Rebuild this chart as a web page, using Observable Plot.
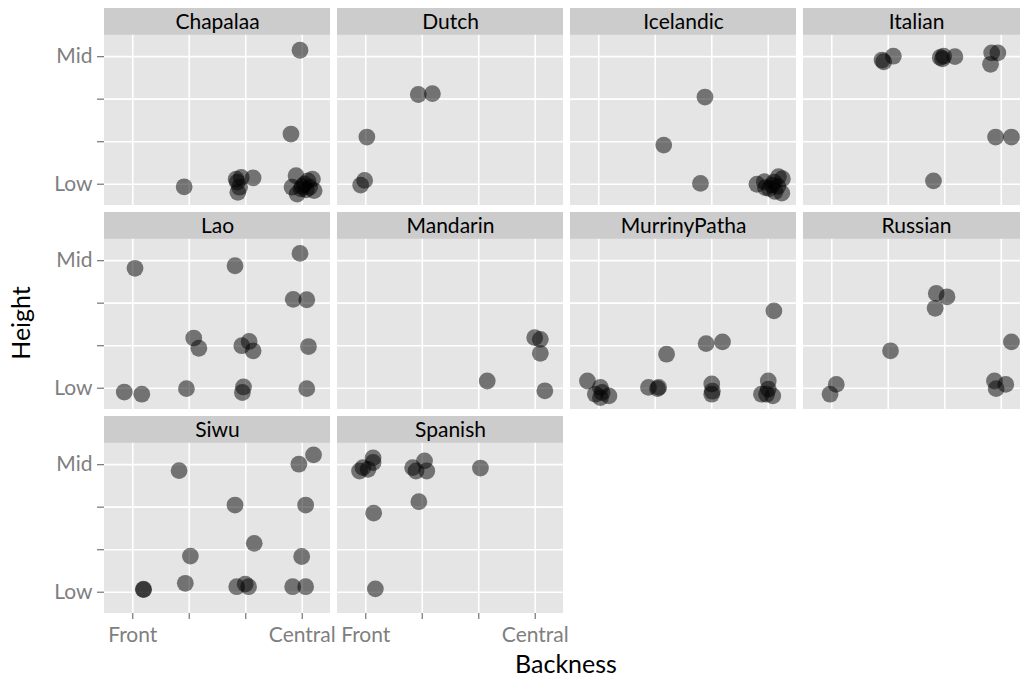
<!DOCTYPE html>
<html>
<head>
<meta charset="utf-8">
<script src="https://cdn.jsdelivr.net/npm/d3@7"></script>
<script src="https://cdn.jsdelivr.net/npm/@observablehq/plot@0.6"></script>
<style>
html, body { margin: 0; padding: 0; background: #fff; overflow: hidden; }
#wrap { position: relative; width: 1020px; height: 677px; overflow: hidden; font-family: Lato, "Open Sans", sans-serif; }
#chart svg { max-width: none !important; }
.title { position: absolute; color: #000; font-size: 25px; line-height: 25px; white-space: nowrap; }
#xt { left: 566px; top: 663px; transform: translate(-50%, -50%); }
#yt { left: 20px; top: 323px; transform: translate(-50%, -50%) rotate(-90deg); }
</style>
</head>
<body>
<div id="wrap">
  <div id="chart"></div>
  <div class="title" id="xt">Backness</div>
  <div class="title" id="yt">Height</div>
</div>
<script>
// Facet names, in facet_wrap order (4 columns)
const languages = ["Chapalaa", "Dutch", "Icelandic", "Italian", "Lao", "Mandarin", "MurrinyPatha", "Russian", "Siwu", "Spanish"];

// Tick positions and labels
const backnessTicks = [1, 2, 3, 4];
const backnessLabels = ["Front", "", "", "Central"];
const heightTicks = [1, 2, 3, 4];
const heightLabels = ["Low", "", "", "Mid"];

// Points per language: [backness, height] (jittered values)
const Chapalaa = [[3.96,4.15],[3.80,2.18],[1.91,0.94],
  [2.83,1.12],[2.92,1.16],[3.13,1.15],[2.86,0.81],[2.89,0.93],[2.85,1.05],
  [3.89,1.20],[4.18,1.12],[3.82,0.93],[3.91,0.77],[4.21,0.85],[4.04,1.00],[4.10,1.08],[3.98,0.89],[4.13,0.93],
  [4.00,0.95],[4.07,0.87]];
const Dutch = [[1.93,3.11],[2.18,3.13],[1.02,2.11],[0.98,1.09],[0.91,0.98]];
const Icelandic = [[2.88,3.05],[2.15,1.92],[2.80,1.02],
  [3.80,1.00],[3.93,1.06],[4.18,1.18],[4.25,1.13],[4.12,0.83],[4.24,0.79],[4.02,0.90],[4.07,0.98],[3.95,0.92],[4.10,1.05],[4.17,0.95]];
const Italian = [[1.92,3.88],[1.89,3.92],[2.09,4.01],[2.92,3.98],[2.96,3.95],[2.98,4.01],[3.18,4.00],
  [3.83,4.09],[3.94,4.09],[3.81,3.82],[3.90,2.11],[4.18,2.11],[2.80,1.08]];
const Lao = [[1.04,3.82],[3.96,4.17],[2.81,3.88],[3.84,3.09],[4.08,3.08],[2.08,2.18],[2.17,1.94],
  [2.93,2.00],[3.06,2.10],[3.13,1.88],[4.11,1.98],[0.85,0.91],[1.16,0.86],[1.95,0.99],[2.96,1.03],[2.94,0.90],[4.08,0.99]];
const Mandarin = [[3.99,2.19],[4.09,2.15],[4.09,1.82],[3.15,1.17],[4.17,0.94]];
const MurrinyPatha = [[4.10,2.82],[2.90,2.05],[3.19,2.09],[2.20,1.80],[0.80,1.17],
  [1.03,1.02],[0.94,0.86],[1.18,0.82],[1.03,0.78],[1.06,0.90],
  [1.88,1.02],[2.06,1.02],[2.04,0.99],
  [3.00,1.10],[3.00,0.86],[3.01,0.93],
  [4.00,1.17],[3.88,0.86],[4.08,0.82],[3.97,0.86],[4.00,0.98]];
const Russian = [[2.85,3.23],[3.04,3.15],[2.83,2.88],[2.04,1.88],[4.18,2.09],[1.08,1.09],[0.97,0.86],[3.88,1.17],[4.08,1.09],[3.91,0.99]];
const Siwu = [[4.20,4.23],[3.94,4.01],[1.82,3.86],[2.81,3.05],[4.06,3.05],[3.15,2.15],[2.02,1.85],[3.99,1.84],
  [1.19,1.07],[1.19,1.06],[1.93,1.21],[2.84,1.13],[2.99,1.19],[3.05,1.13],[3.83,1.13],[4.06,1.13]];
const Spanish = [[1.13,4.16],[1.13,4.05],[0.95,3.93],[0.89,3.85],[1.04,3.89],
  [2.04,4.09],[1.83,3.93],[1.89,3.85],[2.08,3.85],[3.03,3.92],[1.94,3.13],[1.14,2.86],[1.17,1.08]];

const pointsByLanguage = {Chapalaa, Dutch, Icelandic, Italian, Lao, Mandarin, MurrinyPatha, Russian, Siwu, Spanish};

// Build tables for the library
const NCOL = 4;
const panels = languages.map((name, i) => ({name, col: i % NCOL, row: Math.floor(i / NCOL)}));
const lastRow = d3.max(panels, p => p.row);
const points = panels.flatMap(p => pointsByLanguage[p.name].map(([x, y]) => ({x, y, col: p.col, row: p.row})));
const gridX = panels.flatMap(p => backnessTicks.map(v => ({v, col: p.col, row: p.row})));
const gridY = panels.flatMap(p => heightTicks.map(v => ({v, col: p.col, row: p.row})));
// x axis only beneath the panels of the last row (as ggplot facet_wrap did)
const xAxisTicks = panels.filter(p => p.row === lastRow)
  .flatMap(p => backnessTicks.map((v, k) => ({v, label: backnessLabels[k], col: p.col, row: p.row})));

const X0 = 0.5, X1 = 4.5, Y0 = 0.5, Y1 = 4.5, STRIP = 5.132;
const FONT = "Lato, 'Open Sans', sans-serif";
const AXIS_GREY = "#7f7f7f";

const chart = Plot.plot({
  width: 1031,
  height: 677,
  marginLeft: 103,
  marginRight: 0,
  marginTop: 7,
  marginBottom: 62,
  style: {fontFamily: FONT, background: "transparent", overflow: "visible", maxWidth: "none"},
  fx: {domain: [0, 1, 2, 3], axis: null, paddingInner: 0.0287, paddingOuter: 0},
  fy: {domain: [0, 1, 2], axis: null, paddingInner: 0.0341, paddingOuter: 0},
  x: {domain: [X0, X1], axis: null},
  y: {domain: [Y0, STRIP]},
  marks: [
    Plot.rect(panels, {x1: X0, x2: X1, y1: Y0, y2: Y1, fx: "col", fy: "row", fill: "#e5e5e5"}),
    Plot.rect(panels, {x1: X0, x2: X1, y1: Y1, y2: STRIP, fx: "col", fy: "row", fill: "#cccccc"}),
    Plot.ruleX(gridX, {x: "v", y1: Y0, y2: Y1, fx: "col", fy: "row", stroke: "#ffffff", strokeWidth: 1.6}),
    Plot.ruleY(gridY, {y: "v", x1: X0, x2: X1, fx: "col", fy: "row", stroke: "#ffffff", strokeWidth: 1.6}),
    Plot.dot(points, {x: "x", y: "y", fx: "col", fy: "row", r: 8.4, fill: "#000000", fillOpacity: 0.5, stroke: null}),
    Plot.text(panels, {x: (X0 + X1) / 2, y: (Y1 + STRIP) / 2, fx: "col", fy: "row", text: "name", fontSize: 21, fill: "#000000"}),
    // x axis ticks and labels
    Plot.ruleX(xAxisTicks, {x: "v", y1: Y0, y2: Y0, insetBottom: -6, fx: "col", fy: "row", stroke: AXIS_GREY, strokeWidth: 1.3}),
    Plot.text(xAxisTicks, {x: "v", y: Y0, text: "label", fx: "col", fy: "row", lineAnchor: "top", dy: 14, fontSize: 21, fill: AXIS_GREY}),
    // y axis on the first column
    Plot.axisY({ticks: heightTicks, tickFormat: d => heightLabels[heightTicks.indexOf(d)], facetAnchor: "left",
      tickSize: 7, tickPadding: 5, fontSize: 21, color: AXIS_GREY, strokeWidth: 1.3, label: null})
  ]
});
document.getElementById("chart").appendChild(chart);
</script>
</body>
</html>
